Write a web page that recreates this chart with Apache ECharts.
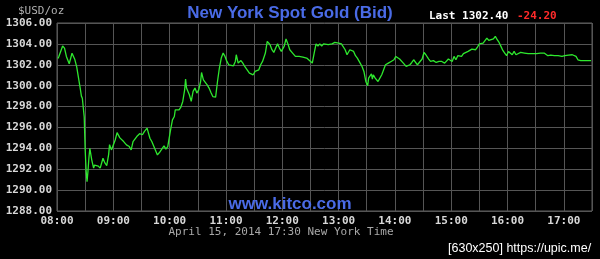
<!DOCTYPE html>
<html>
<head>
<meta charset="utf-8">
<script src="https://cdn.jsdelivr.net/npm/echarts@6/dist/echarts.min.js"></script>
<style>
html,body{margin:0;padding:0;background:#000;}
#chart{width:600px;height:259px;}
</style>
</head>
<body>
<div id="chart"></div>
<script>
// Times (New York) and bid prices
var times = ["08:01","08:02","08:06","08:08","08:10","08:13","08:16","08:17","08:19","08:21","08:23","08:25","08:26","08:27","08:29","08:30","08:31","08:32","08:33","08:34","08:35","08:37","08:39","08:40","08:42","08:44","08:46","08:48","08:49","08:51","08:53","08:55","08:56","08:58","09:00","09:02","09:04","09:07","09:11","09:14","09:17","09:19","09:21","09:25","09:28","09:31","09:33","09:36","09:37","09:39","09:41","09:44","09:47","09:50","09:52","09:54","09:56","09:58","10:00","10:01","10:03","10:05","10:06","10:08","10:10","10:12","10:14","10:16","10:17","10:18","10:21","10:23","10:25","10:27","10:29","10:31","10:33","10:34","10:36","10:38","10:40","10:42","10:44","10:46","10:49","10:51","10:53","10:55","10:57","10:59","11:01","11:03","11:05","11:08","11:10","11:11","11:13","11:16","11:18","11:20","11:22","11:25","11:27","11:29","11:31","11:33","11:35","11:37","11:39","11:42","11:44","11:47","11:49","11:51","11:53","11:55","11:57","11:59","12:02","12:04","12:06","12:08","12:11","12:14","12:16","12:18","12:20","12:22","12:24","12:26","12:29","12:31","12:32","12:34","12:36","12:38","12:40","12:42","12:44","12:46","12:49","12:53","12:56","13:00","13:03","13:05","13:07","13:09","13:10","13:12","13:14","13:16","13:18","13:20","13:23","13:25","13:27","13:28","13:29","13:31","13:32","13:33","13:35","13:36","13:37","13:39","13:40","13:42","13:44","13:46","13:48","13:50","13:53","13:56","13:59","14:01","14:03","14:05","14:07","14:09","14:12","14:14","14:16","14:18","14:20","14:22","14:24","14:26","14:29","14:31","14:33","14:36","14:38","14:41","14:44","14:47","14:50","14:53","14:55","14:57","14:59","15:01","15:03","15:05","15:07","15:09","15:11","15:13","15:15","15:18","15:20","15:22","15:24","15:26","15:28","15:30","15:32","15:34","15:36","15:38","15:40","15:42","15:45","15:47","15:49","15:51","15:53","15:55","15:57","15:59","16:01","16:03","16:05","16:07","16:09","16:11","16:14","16:16","16:18","16:20","16:22","16:24","16:26","16:28","16:31","16:33","16:35","16:37","16:39","16:41","16:43","16:46","16:48","16:50","16:52","16:54","16:56","16:58","17:01","17:03","17:05","17:07","17:09","17:11","17:13","17:15","17:18","17:22","17:29"];
var prices = [1302.6,1302.8,1303.8,1303.6,1302.8,1302.1,1303.1,1303.2,1302.5,1301.8,1300.7,1299.6,1299.0,1298.8,1297.0,1293.9,1291.9,1290.8,1291.8,1293.1,1294.0,1292.9,1292.1,1292.4,1292.25,1292.3,1292.1,1292.25,1293.05,1292.6,1292.35,1293.4,1294.35,1293.85,1294.0,1294.8,1295.5,1295.0,1294.65,1294.33,1294.17,1293.85,1294.65,1295.13,1295.4,1295.3,1295.6,1295.93,1295.6,1294.97,1294.65,1294.0,1293.37,1293.7,1293.85,1294.24,1293.92,1294.17,1294.33,1295.77,1296.73,1297.05,1297.69,1297.85,1297.69,1297.95,1298.49,1299.6,1300.63,1299.77,1299.13,1298.49,1299.45,1299.77,1299.29,1299.6,1300.4,1301.26,1300.56,1300.4,1300.08,1299.77,1299.35,1298.96,1298.9,1300.4,1301.69,1302.64,1303.12,1302.8,1302.32,1302.0,1302.07,1301.9,1302.32,1302.96,1302.16,1302.4,1302.16,1301.84,1301.84,1301.2,1301.36,1301.04,1301.36,1301.2,1301.52,1302.0,1302.32,1303.12,1304.24,1303.92,1303.44,1303.18,1303.6,1304.0,1303.6,1303.28,1303.76,1304.47,1304.0,1303.44,1303.12,1302.8,1302.74,1302.8,1302.64,1302.74,1302.55,1302.64,1302.4,1302.55,1302.16,1303.12,1304.0,1303.8,1304.0,1303.8,1304.0,1303.9,1303.92,1304.0,1304.14,1304.08,1304.0,1303.82,1303.44,1302.96,1303.12,1303.44,1303.5,1303.28,1302.87,1302.64,1302.16,1301.84,1301.36,1300.88,1300.4,1299.99,1300.72,1300.56,1301.14,1300.63,1301.04,1300.72,1300.88,1300.4,1300.72,1301.04,1301.52,1302.0,1302.16,1302.32,1302.48,1302.8,1302.87,1302.55,1302.48,1302.16,1301.84,1301.68,1302.0,1302.22,1302.48,1302.32,1302.0,1301.84,1302.55,1303.18,1302.96,1302.55,1302.32,1302.4,1302.22,1302.32,1302.32,1302.16,1302.16,1302.55,1302.55,1302.32,1302.8,1302.48,1302.87,1302.96,1302.8,1303.06,1303.12,1303.28,1303.28,1303.5,1303.44,1303.44,1303.7,1304.0,1303.92,1304.08,1304.24,1304.56,1304.33,1304.24,1304.47,1304.72,1304.4,1304.14,1303.76,1303.37,1303.12,1302.87,1303.28,1303.12,1302.96,1303.28,1302.96,1303.12,1303.18,1303.06,1303.12,1303.12,1303.06,1303.12,1303.06,1302.96,1303.06,1303.18,1303.12,1303.12,1303.12,1303.0,1302.87,1302.93,1302.8,1302.87,1302.74,1302.87,1302.93,1302.8,1302.87,1302.74,1302.93,1302.87,1302.96,1302.87,1302.8,1302.48,1302.4,1302.4,1302.4];
var xTickLabels = ["08:00","09:00","10:00","11:00","12:00","13:00","14:00","15:00","16:00","17:00"];
var yTickLabels = ["1288.00","1290.00","1292.00","1294.00","1296.00","1298.00","1300.00","1302.00","1304.00","1306.00"];
var lastPrice = "1302.40";
var change = "-24.20";

function toMin(t){var p=t.split(":");return (+p[0]-8)*60+(+p[1]);}
var seriesData = times.map(function(t,i){return [toMin(t), prices[i]];});

var chart = echarts.init(document.getElementById('chart'), null, {renderer:'canvas'});
var mono = '"DejaVu Sans Mono", monospace';
var blue = '#4a6be6';
chart.setOption({
  backgroundColor:'#000',
  animation:false,
  grid:{left:57,right:8,top:23,bottom:48,show:true,borderColor:'#5e5e5e',borderWidth:1,backgroundColor:'transparent'},
  xAxis:{type:'value',min:0,max:570,interval:30,
    axisLine:{show:false},axisTick:{show:false},
    splitLine:{show:true,lineStyle:{color:'#555555',width:1}},
    axisLabel:{color:'#d8d8d8',fontFamily:mono,fontSize:11,fontWeight:'bold',margin:5,showMaxLabel:false,
      formatter:function(v){return v%60===0?xTickLabels[v/60]:'';}}
  },
  yAxis:{type:'value',min:1288,max:1306,interval:2,
    axisLine:{show:false},axisTick:{show:false},
    splitLine:{show:true,lineStyle:{color:'#555555',width:1}},
    axisLabel:{color:'#d8d8d8',fontFamily:mono,fontSize:11,fontWeight:'bold',margin:5,
      formatter:function(v){return yTickLabels[Math.round((v-1288)/2)];}}
  },
  series:[{type:'line',data:seriesData,showSymbol:false,symbol:'none',
    lineStyle:{color:'#2ee82e',width:1.3},z:3}],
  graphic:[
    {type:'text',z:10,style:{x:290,y:13,text:'New York Spot Gold (Bid)',fill:blue,font:'bold 17px "Liberation Sans", Arial, sans-serif',textAlign:'center',textVerticalAlign:'middle'}},
    {type:'text',z:10,style:{x:429,y:16,text:'Last '+lastPrice,fill:'#ffffff',font:'bold 11px '+mono,textAlign:'left',textVerticalAlign:'middle'}},
    {type:'text',z:10,style:{x:517,y:16,text:change,fill:'#ff2a2a',font:'bold 11px '+mono,textAlign:'left',textVerticalAlign:'middle'}},
    {type:'text',z:10,style:{x:18,y:11,text:'$USD/oz',fill:'#b0b0b0',font:'11px '+mono,textAlign:'left',textVerticalAlign:'middle'}},
    {type:'text',z:10,style:{x:290,y:204,text:'www.kitco.com',fill:blue,font:'bold 17px "Liberation Sans", Arial, sans-serif',textAlign:'center',textVerticalAlign:'middle'}},
    {type:'text',z:10,style:{x:281,y:232,text:'April 15, 2014 17:30 New York Time',fill:'#a8a8a8',font:'11px '+mono,textAlign:'center',textVerticalAlign:'middle'}},
    {type:'text',z:10,style:{x:448,y:249,text:'[630x250] https://upic.me/',fill:'#ffffff',font:'12.5px "Liberation Sans", Arial, sans-serif',textAlign:'left',textVerticalAlign:'middle'}}
  ]
});
</script>
</body>
</html>
